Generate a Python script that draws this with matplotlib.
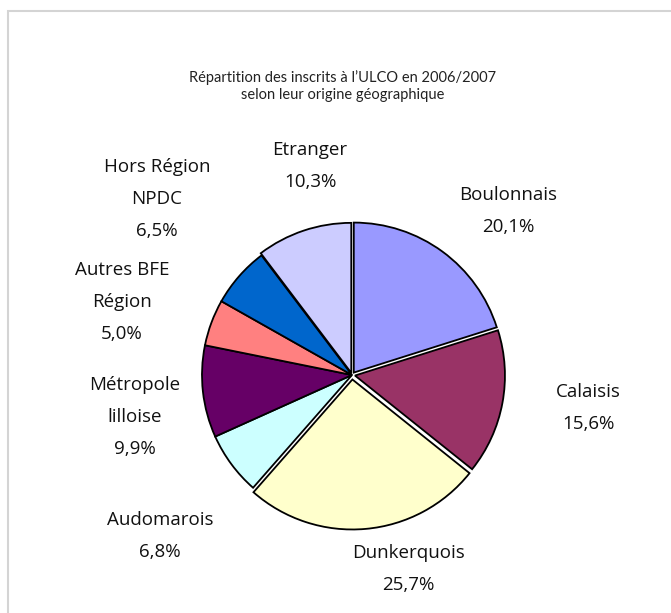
import matplotlib.pyplot as plt
from matplotlib.patches import Rectangle

W, H = 671, 613

# data, clockwise from 12 o'clock
regions = ["Boulonnais", "Calaisis", "Dunkerquois", "Audomarois",
           "Métropole\nlilloise", "Autres BFE\nRégion", "Hors Région\nNPDC", "Etranger"]
shares = [20.1, 15.6, 25.7, 6.8, 9.9, 5.0, 6.5, 10.3]
colors = ["#9999FF", "#993366", "#FFFFCC", "#CCFFFF",
          "#660066", "#FF8080", "#0066CC", "#CCCCFF"]
explode = [0.02, 0.02, 0.03, 0.0, 0.0, 0.0, 0.0, 0.015]

# label block centres in pixels (x, y from top)
label_pos = [(508, 211), (588, 408), (408, 569), (160, 536),
             (135, 417), (122, 302), (157, 199), (310, 166)]

plt.rcParams['font.family'] = ['Open Sans', 'DejaVu Sans']

fig = plt.figure(figsize=(W / 100, H / 100), dpi=100)
fig.patch.set_facecolor("white")
ax = fig.add_axes([0, 0, 1, 1])
ax.set_xlim(0, W)
ax.set_ylim(0, H)
ax.set_aspect("equal")
ax.axis("off")

# grey chart frame
ax.add_patch(Rectangle((8, -20), W, H - 11 + 20, fill=False,
                       edgecolor="#d4d4d4", linewidth=1.5))

R = 150
ax.pie(shares, colors=colors, explode=[e * R for e in explode], startangle=90,
       counterclock=False, center=(352, H - 375), radius=R,
       wedgeprops=dict(edgecolor="black", linewidth=1.3))
ax.set_xlim(0, W)
ax.set_ylim(0, H)

for name, val, (x, y) in zip(regions, shares, label_pos):
    txt = name + "\n" + ("%.1f%%" % val).replace(".", ",")
    ax.text(x, H - y, txt, ha="center", va="center", fontsize=13.5,
            linespacing=2.0, color="#111111")

ax.text(343, H - 86, "Répartition des inscrits à l’ULCO en 2006/2007\nselon leur origine géographique",
        ha="center", va="center", fontsize=10.5, linespacing=1.2, color="#222222",
        family=["Lato", "DejaVu Sans"])

plt.savefig("out.png", dpi=100)
